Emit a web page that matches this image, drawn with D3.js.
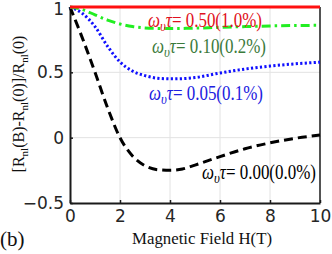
<!DOCTYPE html>
<html>
<head>
<script src="https://cdnjs.cloudflare.com/ajax/libs/d3/7.8.5/d3.min.js"></script>
<style>
  body { margin: 0; background: #fff; }
  .tick text { font-family: "DejaVu Sans", sans-serif; fill: #262626; }
  .serif { font-family: "Liberation Serif", "Times New Roman", serif; }
</style>
</head>
<body>
<svg id="chart" width="332" height="254"></svg>
<script>
// field values (T)
const fieldH = [0, 0.5, 1, 1.5, 2, 2.5, 3, 3.5, 4, 4.5, 5, 6, 7, 8, 9, 10];
// normalized nonlocal resistance change per omega_v*tau
const curve000 = [1, 0.76, 0.5, 0.23, 0.0, -0.14, -0.215, -0.245, -0.25, -0.24, -0.21, -0.145, -0.085, -0.04, -0.005, 0.02];
const curve005 = [1, 0.95, 0.85, 0.7, 0.58, 0.51, 0.475, 0.455, 0.45, 0.452, 0.46, 0.495, 0.525, 0.548, 0.565, 0.578];
const curve010 = [1, 0.98, 0.94, 0.9, 0.87, 0.85, 0.84, 0.836, 0.835, 0.836, 0.838, 0.845, 0.85, 0.855, 0.858, 0.86];
const curve050 = [1, 1, 1, 1, 1, 1, 1, 1, 1, 1, 1, 1, 1, 1, 1, 1];
const xTicks = [0, 2, 4, 6, 8, 10];
const yTicks = [-0.5, 0, 0.5, 1];

const series = [
  {vals: curve000, color: "#000000", dash: "9,5", w: 3, label: "0.00(0.0%)", lc: "#000000", lx: 202, ly: 179},
  {vals: curve005, color: "#1010ff", dash: "2.2,2.3", w: 3, label: "0.05(0.1%)", lc: "#2020e0", lx: 149, ly: 100},
  {vals: curve010, color: "#22ee22", dash: "9,4,2.5,4", w: 3, label: "0.10(0.2%)", lc: "#3b7a3b", lx: 152, ly: 53},
  {vals: curve050, color: "#ff1010", dash: null, w: 3, label: "0.50(1.0%)", lc: "#e01020", lx: 148, ly: 27}
];

const svg = d3.select("#chart");
const x = d3.scaleLinear().domain([0, 10]).range([70, 320]);
const y = d3.scaleLinear().domain([-0.5, 1]).range([203, 7]);

// grid
svg.append("g").selectAll("line.gx")
  .data(xTicks.slice(1, -1)).enter().append("line")
  .attr("x1", d => x(d)).attr("x2", d => x(d))
  .attr("y1", y(-0.5)).attr("y2", y(1))
  .attr("stroke", "#e2e2e2").attr("stroke-width", 1);
svg.append("g").selectAll("line.gy")
  .data(yTicks.slice(1, -1)).enter().append("line")
  .attr("x1", x(0)).attr("x2", x(10))
  .attr("y1", d => y(d)).attr("y2", d => y(d))
  .attr("stroke", "#e2e2e2").attr("stroke-width", 1);

// axes
const xAxis = svg.append("g").attr("transform", `translate(0,${y(-0.5)})`)
  .call(d3.axisBottom(x).tickValues(xTicks).tickSizeInner(-3).tickSizeOuter(0).tickPadding(7).tickFormat(d3.format("")));
const yAxis = svg.append("g").attr("transform", `translate(${x(0)},0)`)
  .call(d3.axisLeft(y).tickValues(yTicks).tickSizeInner(-3).tickSizeOuter(0).tickPadding(6).tickFormat(d3.format("")));
[xAxis, yAxis].forEach(a => {
  a.select(".domain").attr("stroke", "#1a1a1a").attr("stroke-width", 2);
  a.selectAll(".tick line").attr("stroke", "#1a1a1a").attr("stroke-width", 1.5);
  a.selectAll(".tick text").attr("font-size", 17);
});
yAxis.selectAll(".tick text").filter(d => d === 1).attr("dy", "0.42em");
// right and top border
svg.append("line").attr("x1", x(10)).attr("x2", x(10)).attr("y1", y(1)).attr("y2", y(-0.5))
  .attr("stroke", "#1a1a1a").attr("stroke-width", 1.5);
svg.append("line").attr("x1", x(0)).attr("x2", x(10)).attr("y1", y(1)).attr("y2", y(1))
  .attr("stroke", "#1a1a1a").attr("stroke-width", 1.5);

// curves
const line = d3.line().curve(d3.curveMonotoneX).x((d, i) => x(fieldH[i])).y(d => y(d));
series.forEach(s => {
  svg.append("path").attr("d", line(s.vals))
    .attr("fill", "none").attr("stroke", s.color).attr("stroke-width", s.w)
    .attr("stroke-dasharray", s.dash);
});

// labels
series.forEach(s => {
  const t = svg.append("text").attr("class", "serif").attr("x", s.lx).attr("y", s.ly)
    .attr("font-size", 20).attr("fill", s.lc).attr("textLength", 114).attr("lengthAdjust", "spacingAndGlyphs");
  t.append("tspan").attr("font-style", "italic").text("ω");
  t.append("tspan").attr("font-style", "italic").attr("font-size", 15).attr("dy", 4).text("υ");
  t.append("tspan").attr("font-style", "italic").attr("dy", -4).text("τ");
  t.append("tspan").text("= " + s.label);
});

// axis titles
svg.append("text").attr("class", "serif").attr("x", 202).attr("y", 244)
  .attr("text-anchor", "middle").attr("font-size", 16).attr("fill", "#111")
  .attr("textLength", 140).attr("lengthAdjust", "spacingAndGlyphs").text("Magnetic Field H(T)");
svg.append("text").attr("class", "serif").attr("x", 0).attr("y", 246)
  .attr("font-size", 21).attr("fill", "#111").text("(b)");

const yl = svg.append("text").attr("class", "serif")
  .attr("transform", "translate(24,104) rotate(-90)")
  .attr("text-anchor", "middle").attr("font-size", 16).attr("fill", "#111");
yl.append("tspan").text("[R");
yl.append("tspan").attr("font-size", 11).attr("dy", 4).text("nl");
yl.append("tspan").attr("dy", -4).text("(B)-R");
yl.append("tspan").attr("font-size", 11).attr("dy", 4).text("nl");
yl.append("tspan").attr("dy", -4).text("(0)]/R");
yl.append("tspan").attr("font-size", 11).attr("dy", 4).text("nl");
yl.append("tspan").attr("dy", -4).text("(0)");
</script>
</body>
</html>
